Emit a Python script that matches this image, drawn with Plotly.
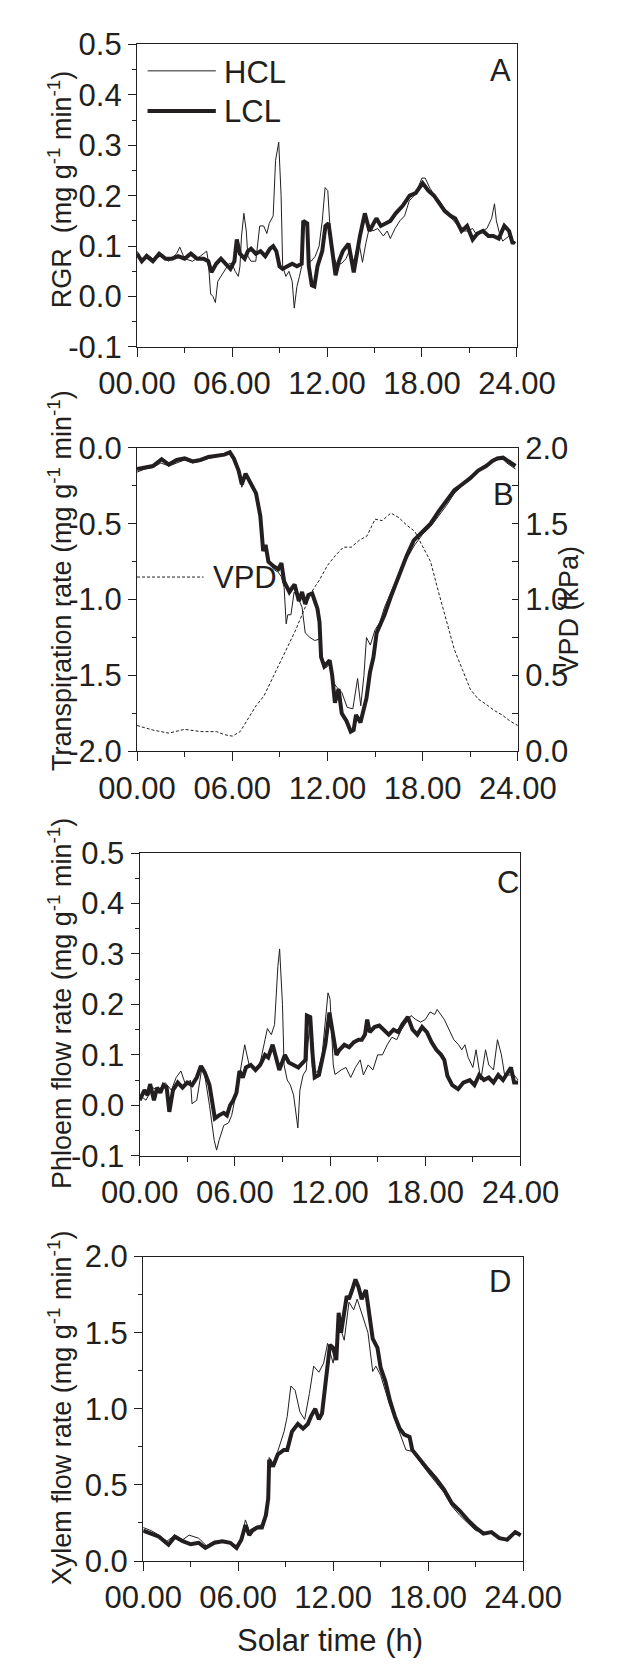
import plotly.graph_objects as go

# ---- data (solar time in h) ----
HOURS = [0, 6, 12, 18, 24]
HOUR_LABELS = ["00.00", "06.00", "12.00", "18.00", "24.00"]

# A: RGR
A_HCL_T = [0, 0.3, 0.6, 1.0, 1.5, 2.0, 2.5, 2.7, 3.0, 3.5, 4.0, 4.4, 4.5, 4.65, 4.8, 4.95, 5.1, 5.3, 5.6, 5.8,
           6.0, 6.2, 6.4, 6.5, 6.6, 6.75, 6.9, 7.0, 7.2, 7.5, 7.75, 8.0, 8.2, 8.35, 8.6, 8.75, 8.95, 9.1, 9.2, 9.4,
           9.6, 9.8, 9.93, 10.1, 10.26, 10.4, 10.55, 10.7, 10.85, 11.0, 11.26, 11.5, 11.7, 11.88, 12.05, 12.2, 12.4,
           12.6, 12.9, 13.2, 13.4, 13.7, 14.0, 14.24, 14.45, 14.7, 14.9, 15.2, 15.56, 15.8, 16.0, 16.3, 16.6, 16.9,
           17.2, 17.5, 17.8, 18.0, 18.2, 18.5, 18.8, 19.1, 19.4, 19.7, 20.0, 20.3, 20.6, 20.9, 21.2, 21.5, 21.8,
           22.1, 22.4, 22.58, 22.7, 22.9, 23.1, 23.3, 23.5, 23.7, 23.85]
A_HCL = [0.09, 0.07, 0.085, 0.075, 0.08, 0.07, 0.085, 0.098, 0.075, 0.07, 0.08, 0.09, 0.07, 0.005, 0.0, -0.012,
         0.03, 0.04, 0.055, 0.065, 0.065, 0.05, 0.04, 0.06, 0.12, 0.165, 0.13, 0.08, 0.07, 0.07, 0.14, 0.14, 0.125,
         0.145, 0.16, 0.27, 0.306, 0.2, 0.06, 0.04, 0.05, 0.03, -0.023, 0.02, 0.04, 0.06, 0.145, 0.14, 0.07, 0.07,
         0.08, 0.1, 0.15, 0.216, 0.21, 0.13, 0.08, 0.065, 0.065, 0.075, 0.09, 0.07, 0.11, 0.068, 0.105, 0.14, 0.13,
         0.135, 0.12, 0.13, 0.115, 0.135, 0.15, 0.16, 0.19, 0.2, 0.22, 0.235, 0.235, 0.215, 0.2, 0.19, 0.175, 0.16,
         0.15, 0.14, 0.13, 0.13, 0.135, 0.12, 0.13, 0.135, 0.155, 0.184, 0.15, 0.125, 0.11, 0.115, 0.12, 0.105, 0.11]
A_LCL_T = [0, 0.3, 0.6, 1.0, 1.4, 1.8, 2.2, 2.6, 3.0, 3.4, 3.8, 4.2, 4.5, 4.7, 5.0, 5.3, 5.6, 5.9, 6.15, 6.3,
           6.5, 6.8, 7.0, 7.2, 7.5, 7.8, 8.1, 8.4, 8.6, 8.8, 9.0, 9.2, 9.5, 9.8, 10.1, 10.4, 10.5, 10.75, 10.85,
           11.04, 11.2, 11.4, 11.7, 11.9, 12.1, 12.3, 12.54, 12.75, 13.0, 13.36, 13.69, 14.08, 14.39, 14.68, 15.12,
           15.4, 15.67, 16.0, 16.34, 16.78, 17.22, 17.6, 18.04, 18.4, 18.76, 19.1, 19.43, 19.8, 20.1, 20.5, 20.85,
           21.2, 21.5, 21.85, 22.2, 22.5, 22.85, 23.2, 23.5, 23.73, 23.85]
A_LCL = [0.085, 0.07, 0.08, 0.07, 0.085, 0.075, 0.075, 0.08, 0.075, 0.085, 0.075, 0.075, 0.07, 0.048, 0.065, 0.075,
         0.065, 0.055, 0.07, 0.113, 0.085, 0.075, 0.09, 0.095, 0.085, 0.09, 0.08, 0.095, 0.1, 0.09, 0.06, 0.055,
         0.06, 0.065, 0.06, 0.065, 0.15, 0.145, 0.06, 0.022, 0.02, 0.06, 0.09, 0.14, 0.145, 0.1, 0.042, 0.07, 0.09,
         0.105, 0.048, 0.12, 0.165, 0.13, 0.155, 0.14, 0.145, 0.15, 0.165, 0.18, 0.2, 0.205, 0.225, 0.21, 0.2, 0.185,
         0.17, 0.16, 0.155, 0.13, 0.14, 0.113, 0.125, 0.13, 0.12, 0.12, 0.115, 0.14, 0.13, 0.105, 0.11]

# B: transpiration rate + VPD
B_HCL_T = [0, 0.5, 1.0, 1.5, 2.0, 2.5, 3.0, 3.5, 4.0, 4.5, 5.0, 5.5, 5.85, 6.1, 6.4, 6.6, 6.84, 7.1, 7.3, 7.5,
           7.77, 7.95, 8.1, 8.3, 8.6, 8.9, 9.1, 9.27, 9.4, 9.5, 9.7, 9.9, 10.1, 10.4, 10.6, 10.9, 11.2, 11.5, 11.7,
           11.9, 12.2, 12.4, 12.6, 12.9, 13.24, 13.6, 13.9, 14.1, 14.3, 14.46, 14.7, 15.0, 15.3, 15.6, 16.0, 16.5,
           17.0, 17.5, 18.0, 18.5, 19.0, 19.5, 20.0, 20.5, 21.0, 21.5, 22.0, 22.4, 22.7, 23.0, 23.3, 23.6, 23.85]
B_HCL = [-0.16, -0.14, -0.13, -0.1, -0.12, -0.1, -0.08, -0.1, -0.09, -0.07, -0.06, -0.05, -0.04, -0.08, -0.15,
         -0.26, -0.19, -0.23, -0.26, -0.31, -0.45, -0.68, -0.66, -0.74, -0.8, -0.82, -0.85, -0.92, -1.16, -1.1,
         -1.1, -0.95, -0.98, -1.05, -1.22, -1.25, -1.27, -1.26, -1.42, -1.45, -1.42, -1.55, -1.58, -1.61, -1.71,
         -1.72, -1.52, -1.7, -1.5, -1.25, -1.3, -1.2, -1.15, -1.05, -0.95, -0.83, -0.73, -0.64, -0.57, -0.52,
         -0.45, -0.38, -0.3, -0.25, -0.21, -0.16, -0.12, -0.09, -0.08, -0.07, -0.1, -0.12, -0.14]
B_LCL_T = [0, 0.5, 1.0, 1.55, 2.0, 2.5, 3.0, 3.5, 4.0, 4.5, 5.0, 5.5, 5.85, 6.1, 6.4, 6.6, 6.84, 7.1, 7.3, 7.5,
           7.77, 7.88, 7.95, 8.1, 8.28, 8.6, 8.9, 9.1, 9.27, 9.6, 9.93, 10.2, 10.4, 10.6, 10.8, 11.04, 11.37, 11.5,
           11.6, 11.8, 12.14, 12.3, 12.47, 12.7, 12.9, 13.2, 13.47, 13.65, 13.8, 14.08, 14.46, 14.68, 14.9, 15.1,
           15.6, 16.0, 16.5, 17.0, 17.44, 18.0, 18.5, 19.0, 19.5, 20.0, 20.5, 21.0, 21.5, 22.0, 22.4, 22.7, 23.07,
           23.4, 23.6, 23.85]
B_LCL = [-0.14, -0.13, -0.12, -0.075, -0.11, -0.08, -0.07, -0.09, -0.08, -0.06, -0.05, -0.045, -0.03, -0.07, -0.15,
         -0.24, -0.17, -0.22, -0.25, -0.3, -0.45, -0.6, -0.68, -0.64, -0.75, -0.78, -0.8, -0.76, -0.88, -0.95, -0.9,
         -1.01, -0.95, -1.03, -0.97, -0.96, -1.06, -1.15, -1.38, -1.44, -1.4, -1.5, -1.68, -1.59, -1.75, -1.8,
         -1.87, -1.86, -1.76, -1.81, -1.65, -1.48, -1.38, -1.22, -1.1, -0.98, -0.84, -0.71, -0.61, -0.55, -0.5,
         -0.42, -0.35, -0.28, -0.24, -0.2, -0.15, -0.12, -0.086, -0.07, -0.065, -0.09, -0.1, -0.12]
VPD_T = [0, 1, 2, 3, 4, 5, 5.5, 6, 6.5, 7, 7.5, 8, 9, 10, 10.5, 11, 11.5, 12, 12.5, 13, 13.5, 14, 14.5, 15, 15.45,
         16, 16.5, 17, 17.5, 18, 18.5, 19, 19.5, 20, 20.5, 21, 21.5, 22, 22.5, 23, 23.5, 24]
VPD = [0.17, 0.14, 0.12, 0.145, 0.13, 0.13, 0.11, 0.1, 0.13, 0.215, 0.3, 0.365, 0.58, 0.8, 0.925, 1.05, 1.13, 1.225,
       1.29, 1.345, 1.345, 1.39, 1.42, 1.53, 1.52, 1.57, 1.54, 1.49, 1.45, 1.345, 1.25, 1.05, 0.86, 0.67, 0.54,
       0.41, 0.344, 0.31, 0.27, 0.24, 0.2, 0.17]

# C: phloem flow rate
C_HCL_T = [0, 0.4, 0.8, 1.2, 1.6, 2.0, 2.3, 2.6, 2.9, 3.2, 3.3, 3.6, 3.9, 4.1, 4.4, 4.7, 4.85, 5.0, 5.3, 5.6,
           5.8, 6.0, 6.3, 6.62, 6.9, 7.2, 7.6, 7.9, 8.05, 8.3, 8.5, 8.71, 8.82, 9.0, 9.1, 9.3, 9.5, 9.7, 9.97, 10.1,
           10.3, 10.5, 10.7, 10.9, 11.2, 11.5, 11.7, 11.87, 12.0, 12.2, 12.31, 12.7, 13.0, 13.3, 13.6, 13.9, 14.1,
           14.4, 14.7, 15.0, 15.3, 15.6, 15.9, 16.2, 16.5, 16.8, 17.1, 17.4, 17.7, 18.0, 18.3, 18.6, 18.75, 19.2,
           19.5, 19.8, 20.1, 20.3, 20.5, 20.7, 21.0, 21.2, 21.5, 21.8, 22.0, 22.3, 22.55, 22.8, 23.0, 23.3, 23.6, 23.85]
C_HCL = [0.02, 0.01, 0.035, 0.03, 0.045, 0.03, 0.055, 0.068, 0.04, 0.05, 0.003, 0.01, 0.07, 0.06, 0.0, -0.07,
         -0.089, -0.07, -0.04, -0.035, -0.02, 0.01, 0.06, 0.12, 0.08, 0.07, 0.085, 0.13, 0.152, 0.14, 0.16, 0.275,
         0.31, 0.2, 0.08, 0.05, 0.04, 0.02, -0.045, 0.03, 0.06, 0.07, 0.16, 0.07, 0.065, 0.1, 0.16, 0.223, 0.21,
         0.08, 0.061, 0.07, 0.075, 0.055, 0.075, 0.09, 0.06, 0.08, 0.07, 0.1, 0.1, 0.12, 0.135, 0.13, 0.15, 0.165,
         0.178, 0.17, 0.165, 0.17, 0.185, 0.18, 0.19, 0.17, 0.15, 0.13, 0.12, 0.11, 0.12, 0.095, 0.075, 0.11, 0.05,
         0.11, 0.08, 0.07, 0.13, 0.1, 0.06, 0.06, 0.06, 0.05]
C_LCL_T = [0, 0.3, 0.5, 0.66, 0.9, 1.1, 1.3, 1.5, 1.7, 1.87, 2.1, 2.4, 2.7, 3.0, 3.3, 3.6, 3.86, 4.1, 4.4, 4.6,
           4.74, 5.0, 5.3, 5.5, 5.7, 5.9, 6.1, 6.29, 6.5, 6.7, 7.0, 7.3, 7.6, 7.9, 8.1, 8.38, 8.6, 8.8, 9.15, 9.4,
           9.7, 10.0, 10.3, 10.45, 10.54, 10.75, 10.9, 11.03, 11.3, 11.5, 11.7, 11.96, 12.2, 12.4, 12.6, 12.9, 13.2,
           13.5, 13.8, 14.0, 14.2, 14.34, 14.5, 14.8, 15.1, 15.4, 15.7, 16.0, 16.3, 16.55, 16.9, 17.2, 17.5, 17.8,
           18.1, 18.4, 18.7, 19.0, 19.2, 19.4, 19.7, 20.07, 20.4, 20.8, 21.1, 21.4, 21.7, 22.0, 22.3, 22.6, 22.9,
           23.2, 23.4, 23.6, 23.85]
C_LCL = [0.01, 0.03, 0.02, 0.042, 0.01, 0.035, 0.025, 0.04, 0.035, -0.013, 0.03, 0.045, 0.035, 0.045, 0.04, 0.055,
         0.078, 0.065, 0.04, 0.0, -0.026, -0.02, -0.015, -0.02, 0.0, 0.01, 0.025, 0.068, 0.055, 0.075, 0.08, 0.07,
         0.08, 0.1, 0.095, 0.12, 0.095, 0.07, 0.1, 0.085, 0.08, 0.075, 0.085, 0.09, 0.178, 0.175, 0.1, 0.055, 0.06,
         0.09, 0.12, 0.184, 0.14, 0.1, 0.11, 0.12, 0.115, 0.125, 0.13, 0.13, 0.14, 0.17, 0.145, 0.155, 0.158, 0.15,
         0.14, 0.15, 0.145, 0.16, 0.175, 0.15, 0.14, 0.155, 0.145, 0.125, 0.11, 0.1, 0.09, 0.058, 0.04, 0.032, 0.045,
         0.05, 0.04, 0.06, 0.05, 0.055, 0.045, 0.06, 0.05, 0.065, 0.075, 0.045, 0.045]

# D: xylem flow rate
D_HCL_T = [0, 0.5, 1.0, 1.5, 2.0, 2.5, 2.9, 3.5, 4.0, 4.5, 5.0, 5.5, 5.9, 6.2, 6.46, 6.7, 7.0, 7.5, 7.8, 7.96,
           8.2, 8.5, 8.9, 9.1, 9.33, 9.6, 9.9, 10.2, 10.5, 10.77, 11.1, 11.4, 11.65, 12.0, 12.4, 12.7, 13.0, 13.3,
           13.52, 13.96, 14.2, 14.5, 14.7, 15.0, 15.5, 16.0, 16.6, 17.0, 17.5, 18.0, 19.0, 19.5, 20.0, 20.6, 21.0,
           22.0, 22.5, 23.0, 23.5, 23.85]
D_HCL = [0.22, 0.2, 0.17, 0.13, 0.17, 0.14, 0.17, 0.15, 0.1, 0.13, 0.13, 0.12, 0.1, 0.15, 0.27, 0.2, 0.22, 0.24,
         0.32, 0.68, 0.64, 0.72, 0.85, 0.95, 1.15, 1.12, 0.98, 0.93, 1.1, 1.28, 1.24, 1.3, 1.43, 1.3, 1.55, 1.45,
         1.7, 1.65, 1.72, 1.57, 1.5, 1.245, 1.28, 1.22, 1.05, 0.9, 0.73, 0.72, 0.65, 0.58, 0.45, 0.36, 0.3, 0.236,
         0.2, 0.18, 0.16, 0.13, 0.2, 0.18]
D_LCL_T = [0, 0.5, 1.0, 1.6, 2.0, 2.5, 3.0, 3.5, 3.93, 4.5, 5.0, 5.5, 5.9, 6.2, 6.46, 6.7, 6.9, 7.2, 7.5, 7.75,
           7.9, 7.96, 8.2, 8.5, 8.89, 9.1, 9.4, 9.77, 10.1, 10.4, 10.6, 10.87, 11.1, 11.3, 11.58, 11.8, 12.0, 12.2,
           12.35, 12.5, 12.86, 13.0, 13.2, 13.41, 13.6, 13.8, 14.07, 14.25, 14.5, 14.8, 15.0, 15.3, 15.6, 15.9,
           16.2, 16.5, 16.83, 17.0, 17.5, 18.0, 18.5, 19.0, 19.5, 20.0, 20.5, 21.0, 21.5, 22.0, 22.5, 23.0, 23.3,
           23.5, 23.85]
D_LCL = [0.2, 0.18, 0.16, 0.107, 0.16, 0.13, 0.11, 0.12, 0.086, 0.12, 0.13, 0.12, 0.086, 0.14, 0.236, 0.17, 0.2,
         0.22, 0.22, 0.3, 0.41, 0.665, 0.62, 0.7, 0.73, 0.73, 0.85, 0.9, 0.87, 0.9, 0.95, 1.0, 0.93, 0.97, 1.2,
         1.42, 1.4, 1.32, 1.63, 1.5, 1.74, 1.72, 1.78, 1.85, 1.8, 1.72, 1.78, 1.65, 1.46, 1.4, 1.27, 1.18, 1.05,
         0.95, 0.87, 0.83, 0.815, 0.73, 0.66, 0.6, 0.54, 0.47, 0.38, 0.33, 0.27, 0.22, 0.18, 0.19, 0.15, 0.14,
         0.17, 0.19, 0.17]

# axis ticks
RGR_TICKS = [-0.1, 0.0, 0.1, 0.2, 0.3, 0.4, 0.5]
RGR_LABELS = ["-0.1", "0.0", "0.1", "0.2", "0.3", "0.4", "0.5"]
TR_TICKS = [-2.0, -1.5, -1.0, -0.5, 0.0]
TR_LABELS = ["-2.0", "-1.5", "-1.0", "-0.5", "0.0"]
VPD_TICKS = [0.0, 0.5, 1.0, 1.5, 2.0]
VPD_LABELS = ["0.0", "0.5", "1.0", "1.5", "2.0"]
XY_TICKS = [0.0, 0.5, 1.0, 1.5, 2.0]
XY_LABELS = ["0.0", "0.5", "1.0", "1.5", "2.0"]

W, H = 626, 1674
INK = "#231f20"
FONT = "Liberation Sans"
UNIT = "(mg g<sup>-1</sup> min<sup>-1</sup>)"
TICK_SIZE = 31
TITLE_SIZE = 27


def px(x):
    return x / W


def py(y):
    return 1 - y / H


# plot boxes in pixels: left, right, top, bottom
BOX = {
    1: (112, 546, 28, 337),
    2: (112, 547, 440, 750),
    3: (115, 550, 854, 1163),
    4: (119, 553, 1266, 1577),
}

fig = go.Figure()


def line(t, v, n, width, name, dash=None, yax=None):
    fig.add_trace(go.Scatter(
        x=t, y=v, mode="lines", name=name, showlegend=False,
        xaxis="x" if n == 1 else f"x{n}",
        yaxis=yax or ("y" if n == 1 else f"y{n}"),
        line=dict(color=INK, width=width, dash=dash),
    ))


line(A_HCL_T, A_HCL, 1, 1, "HCL")
line(A_LCL_T, A_LCL, 1, 4, "LCL")
line(VPD_T, VPD, 2, 1, "VPD", dash="3px,2px", yax="y5")
line(B_HCL_T, B_HCL, 2, 1, "HCL")
line(B_LCL_T, B_LCL, 2, 4, "LCL")
line(C_HCL_T, C_HCL, 3, 1, "HCL")
line(C_LCL_T, C_LCL, 3, 4, "LCL")
line(D_HCL_T, D_HCL, 4, 1, "HCL")
line(D_LCL_T, D_LCL, 4, 4, "LCL")

tickfont = dict(family=FONT, size=TICK_SIZE, color=INK)
common = dict(showline=True, linecolor=INK, linewidth=1.3, mirror=True, showgrid=False,
              zeroline=False, ticks="outside", tickcolor=INK, tickwidth=1.3, tickfont=tickfont)

layout = {}
ydefs = {
    1: (RGR_TICKS, RGR_LABELS, [-0.1, 0.5], 0.05),
    2: (TR_TICKS, TR_LABELS, [-2.0, 0.0], 0.25),
    3: (RGR_TICKS, RGR_LABELS, [-0.1, 0.5], 0.05),
    4: (XY_TICKS, XY_LABELS, [0.0, 2.0], 0.25),
}
for n, (l, r, t, b) in BOX.items():
    xs = "xaxis" if n == 1 else f"xaxis{n}"
    ys = "yaxis" if n == 1 else f"yaxis{n}"
    yref = "y" if n == 1 else f"y{n}"
    xref = "x" if n == 1 else f"x{n}"
    layout[xs] = dict(common, domain=[px(l), px(r)], anchor=yref, range=[0, 24],
                      tickvals=HOURS, ticktext=HOUR_LABELS, ticklen=9,
                      minor=dict(tickvals=[3, 9, 15, 21], ticks="outside", ticklen=5,
                                 tickcolor=INK, tickwidth=1.3))
    tv, tt, rng, md = ydefs[n]
    layout[ys] = dict(common, domain=[py(b), py(t)], anchor=xref, range=rng,
                      tickvals=tv, ticktext=tt, ticklen=8,
                      minor=dict(dtick=md, tick0=0, ticks="outside", ticklen=4,
                                 tickcolor=INK, tickwidth=1.3))

layout["yaxis5"] = dict(showline=True, linecolor=INK, linewidth=1.3, showgrid=False, zeroline=False,
                        overlaying="y2", side="right", anchor="x2", range=[0, 2],
                        tickvals=VPD_TICKS, ticktext=VPD_LABELS, ticks="inside", ticklen=6,
                        tickcolor=INK, tickwidth=1.3, tickfont=tickfont,
                        minor=dict(dtick=0.25, tick0=0, ticks="inside", ticklen=6,
                                   tickcolor=INK, tickwidth=1.3))

fig.update_layout(**layout)


def label(x, y, text, size=TICK_SIZE, angle=0, xanchor="center"):
    fig.add_annotation(x=px(x), y=py(y), xref="paper", yref="paper", text=text, showarrow=False,
                       textangle=angle, xanchor=xanchor, yanchor="middle",
                       font=dict(family=FONT, size=size, color=INK))


# legend in panel A and VPD key in panel B
shapes = []
for y, w in [(55, 1), (96, 4)]:
    shapes.append(dict(type="line", xref="paper", yref="paper", x0=px(124), x1=px(202),
                       y0=py(y), y1=py(y), line=dict(color=INK, width=w)))
shapes.append(dict(type="line", xref="paper", yref="paper", x0=px(112), x1=px(188),
                   y0=py(572), y1=py(572), line=dict(color=INK, width=1, dash="3px,2px")))
fig.update_layout(shapes=shapes)

label(209, 57, "HCL", xanchor="left")
label(209, 97, "LCL", xanchor="left")
label(197, 572, "VPD", xanchor="left")

# panel letters
label(527, 55, "A")
label(531, 488, "B")
label(536, 884, "C")
label(527, 1291, "D")

# axis titles
label(24, 176, "RGR\u00a0\u00a0" + UNIT, size=TITLE_SIZE, angle=-90)
label(24, 576, "Transpiration rate " + UNIT, size=TITLE_SIZE, angle=-90)
label(24, 1008, "Phloem flow rate " + UNIT, size=TITLE_SIZE, angle=-90)
label(24, 1421, "Xylem flow rate " + UNIT, size=TITLE_SIZE, angle=-90)
label(625, 605, "VPD (kPa)", size=TITLE_SIZE, angle=-90, xanchor="right")
label(332, 1658, "Solar time (h)", size=TICK_SIZE)

fig.update_layout(width=W, height=H, autosize=False, margin=dict(l=0, r=0, t=0, b=0),
                  paper_bgcolor="white", plot_bgcolor="white", showlegend=False)

fig.write_html("out.html", config={"displayModeBar": False},
               post_script="document.body.style.margin='0px';")
